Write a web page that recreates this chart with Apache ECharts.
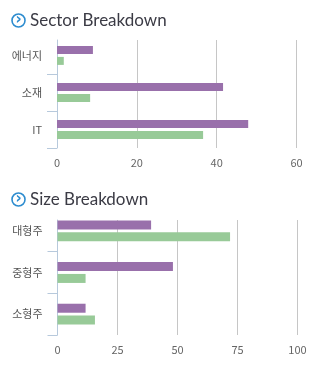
<!DOCTYPE html>
<html>
<head>
<meta charset="utf-8">
<style>
  html, body { margin: 0; padding: 0; background: #fff; }
  #chart { width: 319px; height: 367px; }
</style>
<script src="https://cdn.jsdelivr.net/npm/echarts@6/dist/echarts.min.js"></script>
</head>
<body>
<div id="chart"></div>
<script>
// 섹터 / 규모별 비중 데이터
const sectorCats = ['에너지', '소재', 'IT']
const sectorPurple = [9, 41.6, 47.9]
const sectorGreen = [1.7, 8.3, 36.6]
const sectorTicks = { min: 0, max: 60, interval: 20 }

const sizeCats = ['대형주', '중형주', '소형주']
const sizePurple = [39, 48.1, 11.7]
const sizeGreen = [71.9, 11.7, 15.6]
const sizeTicks = { min: 0, max: 100, interval: 25 }

const PURPLE = '#9970ab'
const GREEN = '#98ca98'
const AXIS_COLOR = '#b7c9dc'
const GRID_COLOR = '#c6c6c6'

const chartInstance = echarts.init(document.getElementById('chart'), null, { renderer: 'canvas' })

const titleStyle = {
  fontWeight: 'normal',
  rich: {
    i: {
      width: 13, height: 13, lineHeight: 13, borderRadius: 8,
      borderWidth: 1.6, borderColor: '#2d8ccf', color: '#2d8ccf',
      align: 'center', fontSize: 15, fontWeight: 'bold', fontFamily: 'DejaVu Sans'
    },
    t: {
      fontSize: 17, fontWeight: 'normal', color: '#3b3b45', fontFamily: 'Lato', padding: [0, 0, 0, 5]
    }
  }
}

// bar grid axes (category) + line grid axes (just for axis line and grid lines)
function barAxes (cats, ticks, gridIndex) {
  return {
    x: {
      type: 'value', gridIndex, min: ticks.min, max: ticks.max, interval: ticks.interval,
      show: false
    },
    y: {
      type: 'category', gridIndex, data: cats, inverse: true,
      axisLine: { show: false },
      axisTick: { show: true, length: 10, interval: (i) => i > 0, lineStyle: { color: AXIS_COLOR } },
      axisLabel: { interval: 0, margin: 15, color: '#555', fontSize: 11, fontFamily: 'Noto Sans CJK KR' },
      splitLine: { show: false }
    }
  }
}
function lineAxes (ticks, gridIndex) {
  return {
    x: {
      type: 'value', gridIndex, min: ticks.min, max: ticks.max, interval: ticks.interval,
      axisLine: { show: false },
      axisTick: { show: false },
      axisLabel: { margin: 9, color: '#666', fontSize: 11, fontFamily: 'Noto Sans CJK KR' },
      splitLine: { show: true, lineStyle: { color: GRID_COLOR, width: 1 } }
    },
    y: {
      type: 'value', gridIndex, min: 0, max: 1,
      axisLine: { show: true, onZero: false, lineStyle: { color: AXIS_COLOR, width: 1 } },
      axisTick: { show: false },
      axisLabel: { show: false },
      splitLine: { show: false }
    }
  }
}

const a0 = barAxes(sectorCats, sectorTicks, 0)
const a1 = lineAxes(sectorTicks, 1)
const a2 = barAxes(sizeCats, sizeTicks, 2)
const a3 = lineAxes(sizeTicks, 3)

const option = {
  animation: false,
  title: [
    { left: 7, top: 7, text: '{i|›}{t|Sector Breakdown}', textStyle: titleStyle },
    { left: 7, top: 186, text: '{i|›}{t|Size Breakdown}', textStyle: titleStyle }
  ],
  grid: [
    { left: 57, top: 37, width: 239.5, height: 111 },
    { left: 57, top: 40, width: 239.5, height: 108 },
    { left: 57.5, top: 210, width: 240, height: 125 },
    { left: 57.5, top: 220, width: 240, height: 115 }
  ],
  xAxis: [a0.x, a1.x, a2.x, a3.x],
  yAxis: [a0.y, a1.y, a2.y, a3.y],
  series: [
    { type: 'bar', xAxisIndex: 0, yAxisIndex: 0, data: sectorPurple, barWidth: 8, barGap: '35%', itemStyle: { color: PURPLE }, z: 3 },
    { type: 'bar', xAxisIndex: 0, yAxisIndex: 0, data: sectorGreen, barWidth: 8, barGap: '35%', itemStyle: { color: GREEN }, z: 3 },
    { type: 'bar', xAxisIndex: 2, yAxisIndex: 2, data: sizePurple, barWidth: 9, barGap: '32%', itemStyle: { color: PURPLE }, z: 3 },
    { type: 'bar', xAxisIndex: 2, yAxisIndex: 2, data: sizeGreen, barWidth: 9, barGap: '32%', itemStyle: { color: GREEN }, z: 3 }
  ]
}
chartInstance.setOption(option)
</script>
</body>
</html>
